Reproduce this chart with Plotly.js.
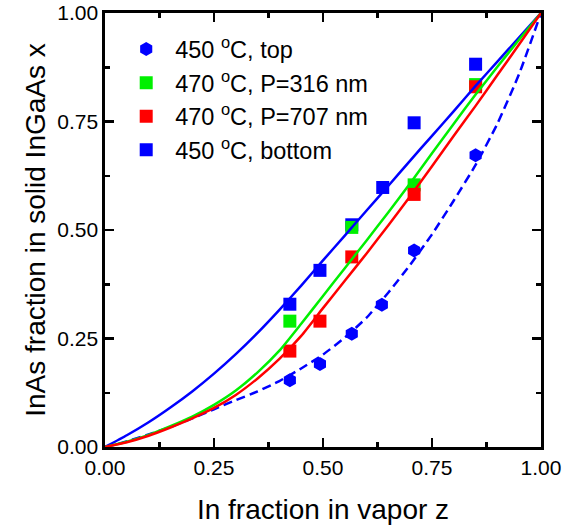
<!DOCTYPE html>
<html>
<head>
<meta charset="utf-8">
<script src="https://cdn.plot.ly/plotly-3.0.1.min.js"></script>
<style>html,body{margin:0;padding:0;background:#fff;}#chart{width:578px;height:528px;}</style>
</head>
<body>
<div id="chart"></div>
<script>
// ---- measured data ----
const topZ = [0.424, 0.493, 0.566, 0.635, 0.709, 0.850];
const topX = [0.154, 0.191, 0.261, 0.328, 0.453, 0.672];

const p316Z = [0.424, 0.566, 0.709, 0.850];
const p316X = [0.290, 0.506, 0.604, 0.835];

const p707Z = [0.424, 0.493, 0.566, 0.709, 0.850];
const p707X = [0.221, 0.290, 0.438, 0.582, 0.830];

const bottomZ = [0.424, 0.493, 0.566, 0.637, 0.709, 0.850];
const bottomX = [0.329, 0.407, 0.512, 0.598, 0.747, 0.882];

// model curves
const curveZ = [0, 0.05, 0.1, 0.15, 0.2, 0.25, 0.3, 0.35, 0.4, 0.45, 0.5, 0.55, 0.6, 0.65, 0.7, 0.75, 0.8, 0.85, 0.9, 0.95, 1];
const curveBottom = [0, 0.027, 0.057, 0.091, 0.128, 0.169, 0.214, 0.263, 0.316, 0.372, 0.430, 0.487, 0.545, 0.602, 0.660, 0.717, 0.774, 0.832, 0.888, 0.944, 1];
const curve316 = [0, 0.012, 0.028, 0.048, 0.070, 0.097, 0.130, 0.172, 0.222, 0.284, 0.348, 0.412, 0.476, 0.541, 0.608, 0.677, 0.745, 0.812, 0.876, 0.939, 1];
const curve707 = [0, 0.011, 0.026, 0.045, 0.066, 0.090, 0.120, 0.158, 0.203, 0.256, 0.320, 0.383, 0.446, 0.511, 0.578, 0.647, 0.717, 0.786, 0.857, 0.928, 1];
const curveTop = [0, 0.013, 0.029, 0.046, 0.066, 0.087, 0.108, 0.128, 0.152, 0.181, 0.213, 0.252, 0.298, 0.356, 0.420, 0.490, 0.568, 0.650, 0.745, 0.860, 1];

const names = ['450 <sup>o</sup>C, top', '470 <sup>o</sup>C, P=316 nm', '470 <sup>o</sup>C, P=707 nm', '450 <sup>o</sup>C, bottom'];
const xTickVals = [0, 0.25, 0.5, 0.75, 1];
const xTickText = ['0.00', '0.25', '0.50', '0.75', '1.00'];

const BLUE = '#0000ff', GREEN = '#00f000', RED = '#ff0000';
const FONT = 'Liberation Sans, Arial, sans-serif';

const traces = [
  {x: bottomZ, y: bottomX, type: 'scatter', mode: 'markers', name: names[3], legendrank: 4,
   marker: {symbol: 'square', size: 13, color: BLUE}},
  {x: p316Z, y: p316X, type: 'scatter', mode: 'markers', name: names[1], legendrank: 2,
   marker: {symbol: 'square', size: 13, color: GREEN}},
  {x: p707Z, y: p707X, type: 'scatter', mode: 'markers', name: names[2], legendrank: 3,
   marker: {symbol: 'square', size: 13, color: RED}},
  {x: topZ, y: topX, type: 'scatter', mode: 'markers', name: names[0], legendrank: 1,
   marker: {symbol: 'hexagon', size: 14, color: BLUE}},
  {x: curveZ, y: curveTop, type: 'scatter', mode: 'lines', showlegend: false,
   line: {color: BLUE, width: 2.5, dash: '9px,5px', shape: 'spline', smoothing: 0.5}},
  {x: curveZ, y: curveBottom, type: 'scatter', mode: 'lines', showlegend: false,
   line: {color: BLUE, width: 2.5, shape: 'spline', smoothing: 0.5}},
  {x: curveZ, y: curve316, type: 'scatter', mode: 'lines', showlegend: false,
   line: {color: GREEN, width: 2.5, shape: 'spline', smoothing: 0.5}},
  {x: curveZ, y: curve707, type: 'scatter', mode: 'lines', showlegend: false,
   line: {color: RED, width: 2.5, shape: 'spline', smoothing: 0.5}}
];

const axisCommon = {
  range: [0, 1], tickvals: xTickVals, ticktext: xTickText,
  showgrid: false, zeroline: false, showline: true, linecolor: '#000', linewidth: 2.7,
  mirror: 'ticks', ticks: 'inside', ticklen: 9, tickwidth: 2.5, tickcolor: '#000',
  minor: {tickvals: [0.125, 0.375, 0.625, 0.875], ticks: 'inside', ticklen: 5, tickwidth: 2.5, tickcolor: '#000'},
  tickfont: {family: FONT, size: 21, color: '#000'},
  fixedrange: true
};

const layout = {
  width: 578, height: 528,
  margin: {l: 105, r: 37, t: 13, b: 81},
  paper_bgcolor: '#fff', plot_bgcolor: '#fff',
  font: {family: FONT, color: '#000'},
  showlegend: true,
  legend: {x: 0.028, y: 0.967, xanchor: 'left', yanchor: 'top', bgcolor: 'rgba(0,0,0,0)',
           font: {family: FONT, size: 23.5, color: '#000'},
           itemwidth: 48, traceorder: 'normal'},
  xaxis: Object.assign({}, axisCommon, {
    title: {text: 'In fraction in vapor z', font: {size: 28, family: FONT, color: '#000'}, standoff: 22}
  }),
  yaxis: Object.assign({}, axisCommon, {
    title: {text: 'InAs fraction in solid InGaAs x', font: {size: 28, family: FONT, color: '#000'}, standoff: 4}
  })
};

Plotly.newPlot('chart', traces, layout, {displayModeBar: false, staticPlot: true});
</script>
</body>
</html>
